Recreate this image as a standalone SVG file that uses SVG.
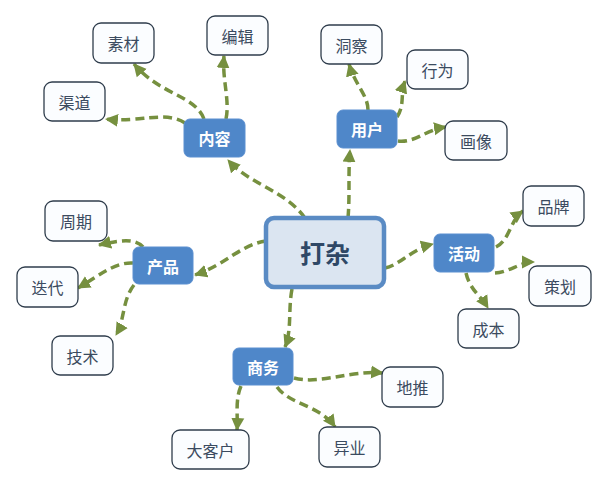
<svg xmlns="http://www.w3.org/2000/svg" width="608" height="486" viewBox="0 0 608 486">
<style>
.bg{fill:#ffffff}
.c{fill:none;stroke:#76903f;stroke-width:3.5;stroke-dasharray:9 5;marker-end:url(#ah)}
.leaf rect{fill:#fbfdff;stroke:#2f3d4c;stroke-width:1.3}
.leaf text{font-family:"Noto Sans CJK SC","Noto Sans",sans-serif;font-size:16px;fill:#3b4b60;text-anchor:middle;dominant-baseline:central}
.mid rect{fill:#4f87c9;stroke:#5b8fd0;stroke-width:1}
.mid text{font-family:"Noto Sans CJK SC","Noto Sans",sans-serif;font-size:16px;font-weight:bold;fill:#ffffff;text-anchor:middle;dominant-baseline:central}
.root rect{fill:#dbe5f1;stroke:#5a8bc4;stroke-width:4.5}
.root text{font-family:"Noto Sans CJK SC","Noto Sans",sans-serif;font-size:25px;font-weight:bold;fill:#2f4866;text-anchor:middle;dominant-baseline:central}
</style>
<defs>
<marker id="ah" markerUnits="userSpaceOnUse" markerWidth="14" markerHeight="14" refX="12" refY="7" orient="auto">
<path d="M0,0.5 L13,7 L0,13.5 Z" fill="#76903f"/>
</marker>
</defs>
<rect class="bg" x="0" y="0" width="608" height="486"/>
<g id="connectors">
<path class="c" d="M305,218 C285,190 250,185 228,160"/>
<path class="c" d="M348,218 C350,195 348,175 350,150"/>
<path class="c" d="M266,241 C240,245 225,265 195,275"/>
<path class="c" d="M385,268 C400,265 410,250 433,244"/>
<path class="c" d="M292,289 C288,310 292,330 285,347"/>
<path class="c" d="M204,119 C195,95 160,95 134,64"/>
<path class="c" d="M226,119 C230,100 222,80 224,56"/>
<path class="c" d="M185,123 C165,110 140,123 106,119"/>
<path class="c" d="M368,110 C368,95 355,85 349,64"/>
<path class="c" d="M397,117 C405,105 400,95 405,81"/>
<path class="c" d="M398,141 C415,143 425,130 446,127"/>
<path class="c" d="M143,247 C135,238 120,240 99,245"/>
<path class="c" d="M133,263 C115,262 100,275 78,288"/>
<path class="c" d="M134,285 C122,300 125,320 116,335"/>
<path class="c" d="M496,247 C510,240 510,220 523,211"/>
<path class="c" d="M495,273 C510,272 520,262 534,262"/>
<path class="c" d="M466,273 C470,290 480,295 488,308"/>
<path class="c" d="M294,378 C320,385 350,370 383,373"/>
<path class="c" d="M241,386 C235,400 238,415 237,430"/>
<path class="c" d="M277,387 C290,405 320,405 335,427"/>
</g>
<g id="root" class="root"><rect x="266" y="218" width="118" height="69" rx="8"/><text x="325" y="252">打杂</text></g>
<g id="n-neirong" class="mid"><rect x="184" y="119" width="61" height="38" rx="6"/><text x="214.5" y="138">内容</text></g>
<g id="n-yonghu" class="mid"><rect x="337" y="110" width="60" height="38" rx="6"/><text x="367" y="129">用户</text></g>
<g id="n-chanpin" class="mid"><rect x="133" y="247" width="60" height="37" rx="6"/><text x="163" y="265.5">产品</text></g>
<g id="n-huodong" class="mid"><rect x="434" y="234" width="60" height="38" rx="6"/><text x="464" y="253">活动</text></g>
<g id="n-shangwu" class="mid"><rect x="233" y="348" width="60" height="37" rx="6"/><text x="263" y="366.5">商务</text></g>
<g id="l-sucai" class="leaf"><rect x="93" y="23" width="61" height="40" rx="8"/><text x="123.5" y="43">素材</text></g>
<g id="l-bianji" class="leaf"><rect x="207" y="16" width="61" height="39" rx="8"/><text x="237.5" y="35.5">编辑</text></g>
<g id="l-qudao" class="leaf"><rect x="44" y="82" width="61" height="39" rx="8"/><text x="74.5" y="101.5">渠道</text></g>
<g id="l-dongcha" class="leaf"><rect x="321" y="25" width="61" height="39" rx="8"/><text x="351.5" y="44.5">洞察</text></g>
<g id="l-xingwei" class="leaf"><rect x="407" y="50" width="61" height="39" rx="8"/><text x="437.5" y="69.5">行为</text></g>
<g id="l-huaxiang" class="leaf"><rect x="445" y="121" width="62" height="39" rx="8"/><text x="476" y="140.5">画像</text></g>
<g id="l-zhouqi" class="leaf"><rect x="45" y="201" width="62" height="40" rx="8"/><text x="76" y="221">周期</text></g>
<g id="l-diedai" class="leaf"><rect x="17" y="267" width="61" height="40" rx="8"/><text x="47.5" y="287">迭代</text></g>
<g id="l-jishu" class="leaf"><rect x="52" y="336" width="61" height="39" rx="8"/><text x="82.5" y="355.5">技术</text></g>
<g id="l-pinpai" class="leaf"><rect x="523" y="186" width="61" height="40" rx="8"/><text x="553.5" y="206">品牌</text></g>
<g id="l-cehua" class="leaf"><rect x="529" y="266" width="62" height="40" rx="8"/><text x="560" y="286">策划</text></g>
<g id="l-chengben" class="leaf"><rect x="458" y="309" width="61" height="39" rx="8"/><text x="488.5" y="328.5">成本</text></g>
<g id="l-ditui" class="leaf"><rect x="382" y="367" width="61" height="40" rx="8"/><text x="412.5" y="387">地推</text></g>
<g id="l-dakehu" class="leaf"><rect x="172" y="430" width="77" height="39" rx="8"/><text x="210.5" y="449.5">大客户</text></g>
<g id="l-yiye" class="leaf"><rect x="319" y="427" width="61" height="40" rx="8"/><text x="349.5" y="447">异业</text></g>
</svg>
